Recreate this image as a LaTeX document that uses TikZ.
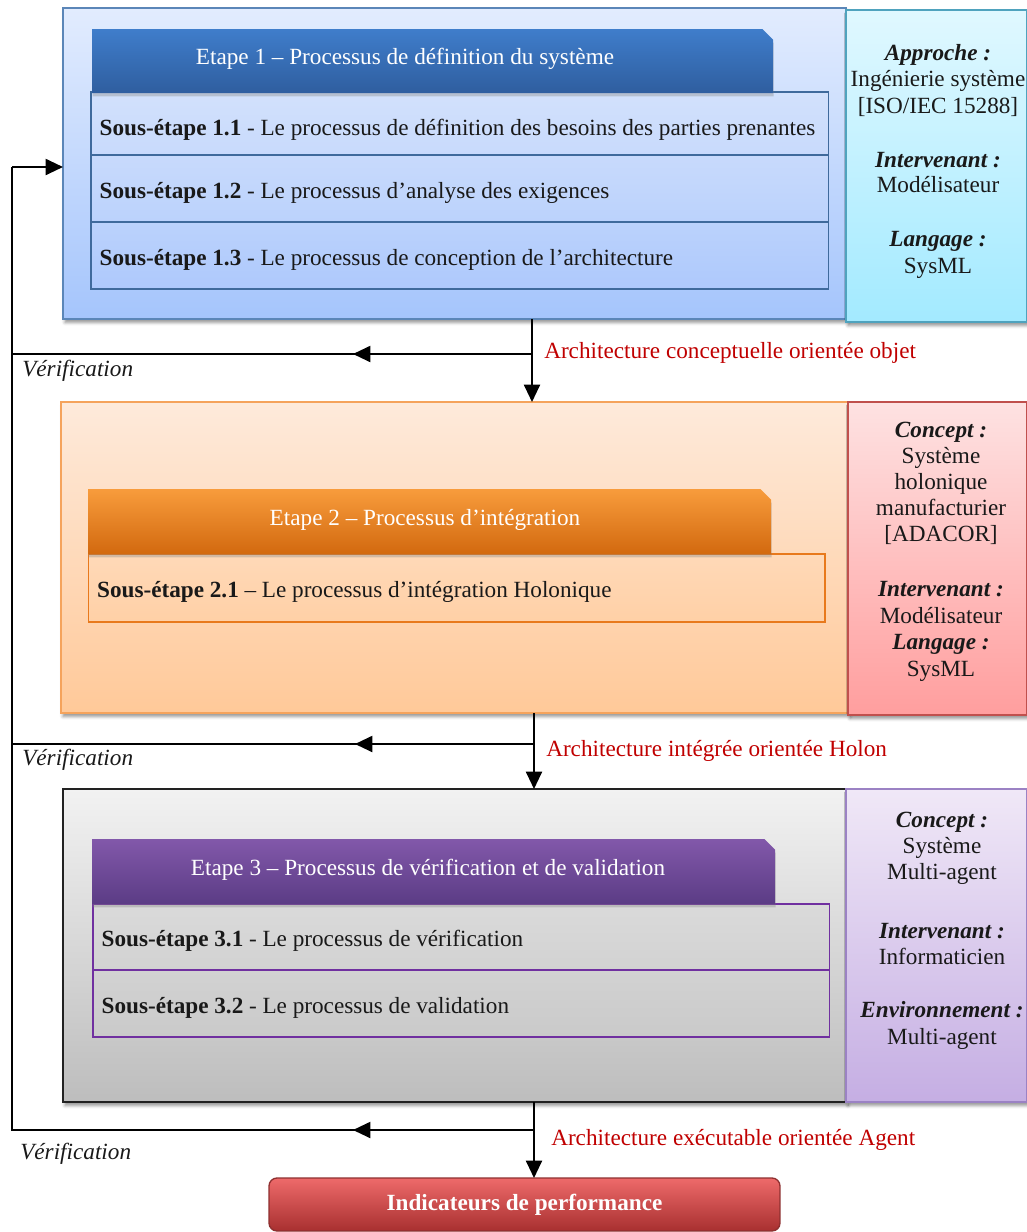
\documentclass[tikz,border=0pt]{standalone}
\usepackage{fontspec}
\setmainfont{Liberation Serif}
\usetikzlibrary{arrows.meta,shadows,shadows.blur,shapes.misc}
\definecolor{eAt}{HTML}{E2ECFE}\definecolor{eAb}{HTML}{A5C5FC}\definecolor{eAd}{HTML}{5B86B8}
\definecolor{rAt}{HTML}{E0F8FF}\definecolor{rAb}{HTML}{A3EAFF}\definecolor{rAd}{HTML}{4FA3BE}
\definecolor{hAt}{HTML}{3F7DCB}\definecolor{hAb}{HTML}{2F5E9F}\definecolor{sAd}{HTML}{3F6A9C}
\definecolor{s1t}{HTML}{D2E1FC}\definecolor{s1b}{HTML}{C8DAFC}\definecolor{s2t}{HTML}{C8DAFC}\definecolor{s2b}{HTML}{BBD2FC}\definecolor{s3t}{HTML}{BBD2FC}\definecolor{s3b}{HTML}{AEC9FC}
\definecolor{eBt}{HTML}{FEEADB}\definecolor{eBb}{HTML}{FFC999}\definecolor{eBd}{HTML}{F5A35C}
\definecolor{rBt}{HTML}{FEE2E2}\definecolor{rBb}{HTML}{FF9E9E}\definecolor{rBd}{HTML}{C0504D}
\definecolor{hBt}{HTML}{F89C3C}\definecolor{hBb}{HTML}{D2690F}\definecolor{sBd}{HTML}{E8791C}
\definecolor{sBt}{HTML}{FFD9B8}\definecolor{sBb}{HTML}{FFD0A6}
\definecolor{eCt}{HTML}{F2F2F2}\definecolor{eCb}{HTML}{BDBDBD}\definecolor{eCd}{HTML}{222222}
\definecolor{rCt}{HTML}{F0E8F7}\definecolor{rCb}{HTML}{C5AEE3}\definecolor{rCd}{HTML}{9B82C4}
\definecolor{hCt}{HTML}{8258AA}\definecolor{hCb}{HTML}{5B3C85}\definecolor{sCd}{HTML}{7030A0}
\definecolor{c1t}{HTML}{DADADA}\definecolor{c1b}{HTML}{D2D2D2}\definecolor{c2t}{HTML}{D2D2D2}\definecolor{c2b}{HTML}{CACACA}
\definecolor{iTt}{HTML}{EE6A6A}\definecolor{iTm}{HTML}{C83F3F}\definecolor{iTb}{HTML}{A83030}\definecolor{iTd}{HTML}{8E3030}
\definecolor{redlab}{HTML}{C00000}
\def\u{0.75pt}
\newcommand{\main}{\fontsize{17.4}{20}\selectfont}
\newcommand{\lineA}{\fontsize{17.4}{19}\selectfont}
\newcommand{\lineB}{\fontsize{17.4}{19.6}\selectfont}
\newcommand{\lineC}{\fontsize{17.4}{20.2}\selectfont}
\newcommand{\headfill}{\rule{300pt}{0pt}\rule{0pt}{20pt}}
\tikzset{
 every node/.style={font=\main,text=black!90},
 softshadow/.style={blur shadow={shadow xshift=1.5pt,shadow yshift=-2.5pt,shadow blur radius=2.5pt,shadow opacity=45}},
 stagebox/.style={draw,line width=1.5pt,anchor=north west,inner sep=0pt,outer sep=0pt,softshadow},
 sidebox/.style={stagebox},
 subbox/.style={draw,line width=1.1pt,anchor=north west,inner xsep=6.5pt,inner ysep=0pt,outer sep=0pt,align=left,
   text height=17pt,text depth=2.4pt,execute at begin node={\spaceskip=4.3pt plus 1pt\relax}},
 headbox/.style={chamfered rectangle,chamfered rectangle corners=north east,
   chamfered rectangle xsep=4pt,chamfered rectangle ysep=4pt,anchor=north west,inner sep=0pt,outer sep=0pt,
   drop shadow={shadow xshift=0.5pt,shadow yshift=-2.5pt,opacity=.35}},
 headlabel/.style={inner sep=0pt,text=white},
 sideA/.style={align=center,inner sep=0pt,font=\lineA},
 sideB/.style={align=center,inner sep=0pt,font=\lineB},
 sideC/.style={align=center,inner sep=0pt,font=\lineC},
 archlabel/.style={anchor=west,inner sep=0pt,text=redlab,text height=11pt,text depth=3.5pt},
 verif/.style={anchor=west,inner sep=0pt,font=\main\itshape,text height=11pt,text depth=3.5pt},
 flow/.style={line width=1.5pt,draw=black},
 flowtip/.style={flow,-{Triangle[length=13pt,width=12pt]}}
}
\begin{document}
\begin{tikzpicture}[x=0.75pt,y=-0.75pt]
\useasboundingbox (0,0) rectangle (1027,1232);
% stage 1
\node[stagebox,draw=eAd,top color=eAt,bottom color=eAb,minimum width=783*\u,minimum height=311*\u] (e1) at (63,8) {};
\node[sidebox,draw=rAd,top color=rAt,bottom color=rAb,minimum width=181*\u,minimum height=312*\u] (r1) at (846,10) {};
\node[subbox,draw=sAd,top color=s1t,bottom color=s1b,text width=720*\u,minimum height=63*\u,text height=20pt] (s11) at (91,92) {\textbf{Sous-étape 1.1} - Le processus de définition des besoins des parties prenantes};
\node[subbox,draw=sAd,top color=s2t,bottom color=s2b,text width=720*\u,minimum height=67*\u] (s12) at (91,155) {\textbf{Sous-étape 1.2} - Le processus d’analyse des exigences};
\node[subbox,draw=sAd,top color=s3t,bottom color=s3b,text width=720*\u,minimum height=67*\u] (s13) at (91,222) {\textbf{Sous-étape 1.3} - Le processus de conception de l’architecture};
\node[headbox,top color=hAt,bottom color=hAb,minimum width=681*\u,minimum height=64*\u] (h1) at (92,29) {\headfill};
\node[headlabel] (h1t) at (405,59) {Etape 1 – Processus de définition du système};
\node[sideC] (a1) at (938,80.5) {\textbf{\textit{Approche :}}\\Ingénierie système\\{}[ISO/IEC 15288]};
\node[sideA] (a2) at (938,172.5) {\textbf{\textit{Intervenant :}}\\Modélisateur};
\node[sideC] (a3) at (938,254.5) {\textbf{\textit{Langage :}}\\SysML};
% stage 2
\node[stagebox,draw=eBd,top color=eBt,bottom color=eBb,minimum width=787*\u,minimum height=311*\u] (e2) at (61,402) {};
\node[sidebox,draw=rBd,top color=rBt,bottom color=rBb,minimum width=179*\u,minimum height=313*\u] (r2) at (848,402) {};
\node[subbox,draw=sBd,top color=sBt,bottom color=sBb,text width=719*\u,minimum height=68*\u] (s21) at (88.5,554) {\textbf{Sous-étape 2.1} – Le processus d’intégration Holonique};
\node[headbox,top color=hBt,bottom color=hBb,minimum width=683*\u,minimum height=65*\u] (h2) at (88,489) {\headfill};
\node[headlabel] (h2t) at (425,520) {Etape 2 – Processus d’intégration};
\node[sideB] (b1) at (941,483.5) {\textbf{\textit{Concept :}}\\Système\\holonique\\manufacturier\\{}[ADACOR]};
\node[sideC] (b2) at (941,602.5) {\textbf{\textit{Intervenant :}}\\Modélisateur};
\node[sideC] (b3) at (941,657.5) {\textbf{\textit{Langage :}}\\SysML};
% stage 3
\node[stagebox,draw=eCd,top color=eCt,bottom color=eCb,minimum width=783*\u,minimum height=313*\u] (e3) at (63,789) {};
\node[sidebox,draw=rCd,top color=rCt,bottom color=rCb,minimum width=181*\u,minimum height=313*\u] (r3) at (846,789) {};
\node[subbox,draw=sCd,top color=c1t,bottom color=c1b,text width=719*\u,minimum height=66*\u] (s31) at (93,904) {\textbf{Sous-étape 3.1} - Le processus de vérification};
\node[subbox,draw=sCd,top color=c2t,bottom color=c2b,text width=719*\u,minimum height=67*\u] (s32) at (93,970) {\textbf{Sous-étape 3.2} - Le processus de validation};
\node[headbox,top color=hCt,bottom color=hCb,minimum width=683*\u,minimum height=65*\u] (h3) at (92,839) {\headfill};
\node[headlabel] (h3t) at (428,870) {Etape 3 – Processus de vérification et de validation};
\node[sideB] (c1) at (942,848) {\textbf{\textit{Concept :}}\\Système\\Multi-agent};
\node[sideB] (c2) at (942,944) {\textbf{\textit{Intervenant :}}\\Informaticien};
\node[sideC] (c3) at (942,1025.5) {\textbf{\textit{Environnement :}}\\Multi-agent};
% result
\node[rounded corners=6pt,draw=iTd,line width=1pt,top color=iTt,middle color=iTm,bottom color=iTb,anchor=north west,inner sep=0pt,outer sep=0pt,
  minimum width=511*\u,minimum height=53*\u,text=white,font=\main\bfseries] (perf) at (269,1178) {Indicateurs de performance};
% labels
\node[archlabel] (l1) at (544,353) {Architecture conceptuelle orientée objet};
\node[archlabel] (l2) at (546,751) {Architecture intégrée orientée Holon};
\node[archlabel] (l3) at (551,1140) {Architecture exécutable orientée Agent};
\node[verif] (v1) at (22,371.5) {Vérification};
\node[verif] (v2) at (22,760.5) {Vérification};
\node[verif] (v3) at (20,1154.5) {Vérification};
% junctions
\coordinate (j1) at (532,354);
\coordinate (j2) at (534,744);
\coordinate (j3) at (534,1130);
\coordinate (m1) at (353,354);
\coordinate (m2) at (355,744);
\coordinate (m3) at (353,1130);
\coordinate (b1l) at (12,354);
\coordinate (b2l) at (12,744);
\coordinate (b3l) at (12,1130);
\coordinate (top) at (12,167);
% connectors
\draw[flowtip] (e1.south -| j1) -- (e2.north -| j1);
\draw[flowtip] (e2.south -| j2) -- (e3.north -| j2);
\draw[flowtip] (e3.south -| j3) -- (perf.north -| j3);
\draw[flowtip] (j1) -- (m1);
\draw[flowtip] (j2) -- (m2);
\draw[flowtip] (j3) -- (m3);
\draw[flow] (j1) -- (b1l);
\draw[flow] (j2) -- (b2l);
\draw[flow] (j3) -- (b3l) -- (top);
\draw[flowtip] (top) -- (e1.west |- top);
\end{tikzpicture}
\end{document}
